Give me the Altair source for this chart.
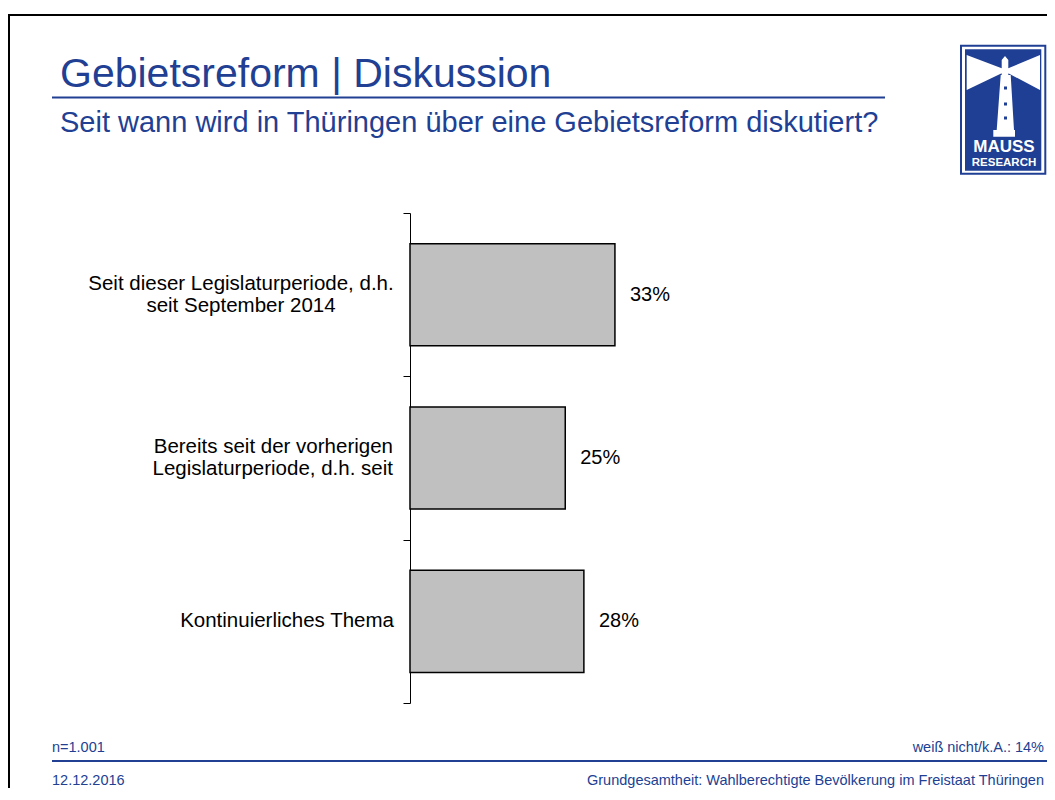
import altair as alt
import pandas as pd

# ---- data ----
categories = [
    "Seit dieser Legislaturperiode, d.h.|seit September 2014",
    "Bereits seit der vorherigen|Legislaturperiode, d.h. seit",
    "Kontinuierliches Thema",
]
values = [33, 25, 28]
value_labels = ["33%", "25%", "28%"]

title_text = "Gebietsreform | Diskussion"
subtitle_text = "Seit wann wird in Thüringen über eine Gebietsreform diskutiert?"
sample_text = "n=1.001"
dontknow_text = "weiß nicht/k.A.: 14%"
date_text = "12.12.2016"
base_text = "Grundgesamtheit: Wahlberechtigte Bevölkerung im Freistaat Thüringen"
logo_top = "MAUSS"
logo_bottom = "RESEARCH"

FONT = "Liberation Sans"
BLUE = "#213f93"
LOGO_BLUE = "#1f3f94"

df = pd.DataFrame({"category": categories, "value": values, "label": value_labels})

y_enc = alt.Y(
    "category:N",
    sort=categories,
    scale=alt.Scale(paddingInner=0, paddingOuter=0),
    axis=alt.Axis(
        title=None,
        labels=False,
        tickBand="extent",
        tickSize=7,
        tickColor="black",
        tickWidth=1,
        domainColor="black",
        domainWidth=1,
        grid=False,
    ),
)
y_plain = alt.Y("category:N", sort=categories)
x_enc = alt.X("value:Q", scale=alt.Scale(domain=[0, 100]), axis=None)

bars = alt.Chart(df).mark_bar(
    height={"band": 0.625}, color="#c0c0c0", stroke="black", strokeWidth=1.5
).encode(y=y_enc, x=x_enc)

pct = alt.Chart(df).mark_text(
    align="left", baseline="middle", dx=15, fontSize=20, font=FONT, color="black"
).encode(y=y_plain, x=x_enc, text="label:N")


def cat_labels(filter_expr, align, xpos, dy):
    return alt.Chart(df).transform_filter(filter_expr).mark_text(
        align=align, baseline="middle", fontSize=20.5, font=FONT, color="black",
        lineBreak="|", lineHeight=22, dy=dy
    ).encode(y=y_plain, x=alt.value(xpos), text="category:N")


first = "datum.category === " + repr(categories[0])
multi = "indexof(datum.category, '|') >= 0"
lab1 = cat_labels(first, "center", -169, -11)
lab2 = cat_labels("!(" + first + ") && " + multi, "right", -17, -11)
lab3 = cat_labels("!(" + multi + ")", "right", -16, 0)


def one():
    return pd.DataFrame({"t": [""]})


def txt(s, x, y, size, align="left", weight="normal", color=BLUE):
    return alt.Chart(pd.DataFrame({"t": [s]})).mark_text(
        align=align, baseline="alphabetic", fontSize=size, font=FONT,
        color=color, fontWeight=weight
    ).encode(text="t:N", x=alt.value(x), y=alt.value(y))


def rect(x, x2, y, y2, **kw):
    return alt.Chart(one()).mark_rect(**kw).encode(
        x=alt.value(x), x2=alt.value(x2), y=alt.value(y), y2=alt.value(y2)
    )


def hrule(x, x2, y, color, width):
    return alt.Chart(one()).mark_rule(color=color, strokeWidth=width).encode(
        x=alt.value(x), x2=alt.value(x2), y=alt.value(y)
    )


# page -> plot coords: subtract (410, 213)
frame = rect(-401, 700, -198, 620, fillOpacity=0, stroke="black", strokeWidth=2)

title = txt(title_text, -350, -126, 41)
underline = hrule(-358, 475, -115.5, BLUE, 2)
subtitle = txt(subtitle_text, -350, -81, 29)

foot_n = txt(sample_text, -358, 539, 14.5)
foot_dk = txt(dontknow_text, 634, 539, 14.5, align="right")
foot_rule = hrule(-358, 640, 548, BLUE, 2)
foot_date = txt(date_text, -358, 572, 14.5)
foot_base = txt(base_text, 634, 572, 14.5, align="right")

# logo
logo_outer = rect(550, 636.3, -168.3, -38.3, color=LOGO_BLUE)
logo_white = rect(552, 634.3, -166.3, -40.3, color="white")
logo_inner = rect(555, 631.3, -163.7, -42.3, color=LOGO_BLUE)
lighthouse_path = (
    "M-0.756,-0.82L-0.056,-0.554L-0.056,-0.454L-0.756,-0.12Z "
    "M0.71,-0.82L0.076,-0.554L0.076,-0.454L0.71,-0.12Z "
    "M-0.056,-0.72L0.01,-0.8L0.076,-0.72L0.076,-0.42L-0.056,-0.42Z "
    "M-0.076,-0.42L0.124,-0.42L0.19,0.68L-0.156,0.68Z "
    "M-0.224,0.68L0.21,0.68L0.21,0.814L-0.224,0.814Z"
)
windows_path = (
    "M-0.01,-0.19L0.05,-0.19L0.05,-0.13L-0.01,-0.13Z "
    "M-0.01,0.13L0.05,0.13L0.05,0.19L-0.01,0.19Z "
    "M-0.01,0.41L0.05,0.41L0.05,0.47L-0.01,0.47Z"
)
lighthouse = alt.Chart(one()).mark_point(
    shape=lighthouse_path, filled=True, size=10000, color="white", opacity=1, strokeWidth=0
).encode(x=alt.value(594.5), y=alt.value(-117))
windows = alt.Chart(one()).mark_point(
    shape=windows_path, filled=True, size=10000, color=LOGO_BLUE, opacity=1, strokeWidth=0
).encode(x=alt.value(594.5), y=alt.value(-117))
logo_t1 = txt(logo_top, 594, -61, 17, align="center", weight="bold", color="white")
logo_t2 = txt(logo_bottom, 594, -47, 11.5, align="center", weight="bold", color="white")

chart = alt.layer(
    frame, title, underline, subtitle,
    bars, pct, lab1, lab2, lab3,
    foot_n, foot_dk, foot_rule, foot_date, foot_base,
    logo_outer, logo_white, logo_inner, lighthouse, windows, logo_t1, logo_t2,
).properties(
    width=621,
    height=490,
    autosize=alt.AutoSizeParams(type="none"),
    padding={"left": 402, "top": 205, "right": 16, "bottom": 85},
).configure(background="white").configure_view(stroke="transparent", strokeWidth=0)

chart.save("out.html", embed_options={"renderer": "svg", "actions": False})
